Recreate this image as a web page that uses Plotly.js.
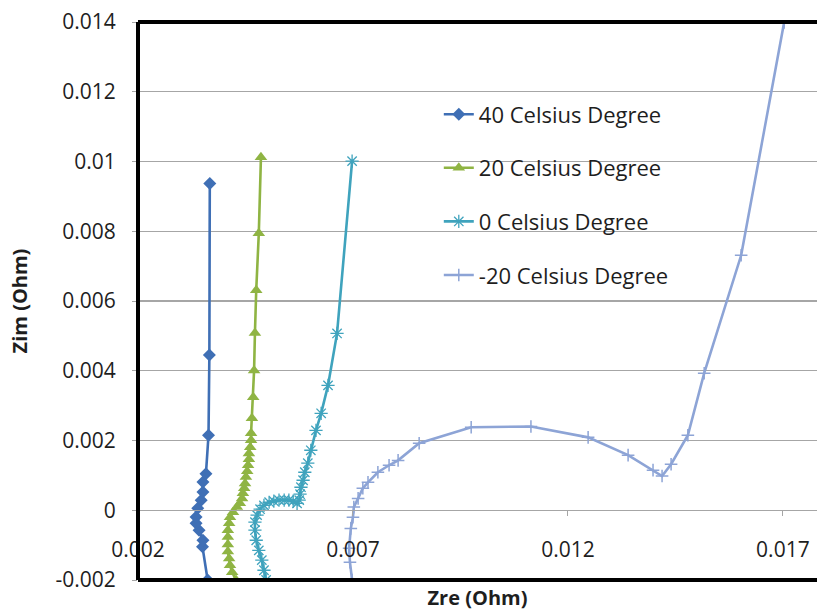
<!DOCTYPE html>
<html>
<head>
<meta charset="utf-8">
<script src="https://cdn.plot.ly/plotly-3.0.1.min.js"></script>
<style>html,body{margin:0;padding:0;background:#fff;}#chart{width:817px;height:614px;}</style>
</head>
<body>
<div id="chart"></div>
<script>
// Series names
const seriesNames = ['40 Celsius Degree', '20 Celsius Degree', '0 Celsius Degree', '-20 Celsius Degree'];

// 40 Celsius Degree
const zre40 = [0.00362, 0.00350, 0.00351, 0.00342, 0.00335, 0.00335, 0.00339, 0.00347, 0.00351, 0.00351, 0.00358, 0.00364, 0.00366, 0.00367];
const zim40 = [-0.00200, -0.00105, -0.00086, -0.00057, -0.00037, -0.00019, 0.00006, 0.00029, 0.00052, 0.00081, 0.00105, 0.00215, 0.00445, 0.00937];

// 20 Celsius Degree
const zre20 = [0.00428, 0.00419, 0.00414, 0.00412, 0.00409, 0.00409, 0.00409, 0.00409, 0.00412, 0.00414, 0.00421, 0.00430, 0.00437, 0.00442, 0.00444, 0.00447, 0.00449, 0.00451, 0.00454, 0.00456, 0.00458, 0.00458, 0.00461, 0.00463, 0.00463, 0.00465, 0.00468, 0.00470, 0.00472, 0.00475, 0.00481, 0.00486];
const zim20 = [-0.00200, -0.00178, -0.00158, -0.00138, -0.00118, -0.00098, -0.00077, -0.00057, -0.00037, -0.00020, -0.00006, 0.00009, 0.00020, 0.00034, 0.00049, 0.00063, 0.00077, 0.00095, 0.00112, 0.00129, 0.00146, 0.00163, 0.00181, 0.00201, 0.00221, 0.00264, 0.00324, 0.00401, 0.00508, 0.00631, 0.00794, 0.01012];

// 0 Celsius Degree
const zre0 = [0.00498, 0.00493, 0.00488, 0.00481, 0.00475, 0.00472, 0.00472, 0.00477, 0.00484, 0.00493, 0.00505, 0.00516, 0.00528, 0.00540, 0.00551, 0.00561, 0.00570, 0.00575, 0.00577, 0.00579, 0.00584, 0.00588, 0.00595, 0.00602, 0.00614, 0.00626, 0.00642, 0.00663, 0.00698];
const zim0 = [-0.00200, -0.00172, -0.00143, -0.00115, -0.00086, -0.00057, -0.00034, -0.00014, 0.00003, 0.00014, 0.00023, 0.00026, 0.00029, 0.00029, 0.00029, 0.00026, 0.00020, 0.00029, 0.00046, 0.00066, 0.00086, 0.00109, 0.00135, 0.00172, 0.00229, 0.00278, 0.00358, 0.00507, 0.01001];

// -20 Celsius Degree
const zreM20 = [0.00698, 0.00693, 0.00691, 0.00695, 0.00700, 0.00702, 0.00712, 0.00723, 0.00735, 0.00758, 0.00784, 0.00805, 0.00854, 0.00975, 0.01114, 0.01247, 0.01340, 0.01398, 0.01419, 0.01440, 0.01479, 0.01517, 0.01603, 0.01703];
const zimM20 = [-0.00200, -0.00149, -0.00109, -0.00052, -0.00020, 0.00009, 0.00034, 0.00063, 0.00080, 0.00109, 0.00129, 0.00143, 0.00192, 0.00238, 0.00240, 0.00209, 0.00158, 0.00115, 0.00098, 0.00132, 0.00215, 0.00393, 0.00731, 0.01399];

// Tick values / labels
const xTickVals = [0.002, 0.007, 0.012, 0.017];
const xTickText = ['0.002', '0.007', '0.012', '0.017'];
const yTickVals = [-0.002, 0, 0.002, 0.004, 0.006, 0.008, 0.01, 0.012, 0.014];
const yTickText = ['-0.002', '0', '0.002', '0.004', '0.006', '0.008', '0.01', '0.012', '0.014'];

const colors = ['#3f6fb5', '#8fb443', '#3fa3bd', '#8da4d6'];
const FONT = '"Open Sans", "DejaVu Sans", sans-serif';
const TXT = '#1e1e1e';

const traces = [
  {x: zre40, y: zim40, name: seriesNames[0], legendgroup: 'g1', mode: 'lines+markers', type: 'scatter',
   line: {color: colors[0], width: 2.6}, marker: {symbol: 'diamond', size: 10, color: colors[0]}},
  {x: zre20, y: zim20, name: seriesNames[1], legendgroup: 'g2', mode: 'lines+markers', type: 'scatter',
   line: {color: colors[1], width: 2.6}, marker: {symbol: 'triangle-up', size: 11, color: colors[1]}},
  {x: zre0, y: zim0, name: seriesNames[2], legendgroup: 'g3', mode: 'lines+markers', type: 'scatter',
   line: {color: colors[2], width: 2.6}, marker: {symbol: 'asterisk-open', size: 11, color: colors[2], line: {color: colors[2], width: 1.3}}},
  {x: zreM20, y: zimM20, name: seriesNames[3], legendgroup: 'g4', mode: 'lines+markers', type: 'scatter',
   line: {color: colors[3], width: 2.6}, marker: {symbol: 'cross-thin-open', size: 9, color: colors[3], line: {color: colors[3], width: 1.5}}}
];

const layout = {
  width: 817, height: 614,
  margin: {l: 138, r: 0, t: 22, b: 34},
  paper_bgcolor: '#ffffff', plot_bgcolor: '#ffffff',
  font: {family: FONT, color: TXT, size: 21},
  showlegend: true,
  legend: {x: 0.443, y: 0.872, xanchor: 'left', yanchor: 'top', bgcolor: 'rgba(0,0,0,0)',
           font: {family: FONT, size: 22, color: TXT}, traceorder: 'grouped', tracegroupgap: 22},
  xaxis: {
    range: [0.002, 0.017794], anchor: 'free', position: 0.125,
    tickvals: xTickVals, ticktext: xTickText,
    showgrid: false, zeroline: false,
    showline: true, linecolor: '#a6a6a6', linewidth: 1,
    ticks: 'outside', ticklen: 5, tickcolor: '#a6a6a6', tickwidth: 1,
    ticklabelstandoff: 16,
    tickfont: {family: FONT, size: 21, color: TXT},
    title: {text: '<b>Zre (Ohm)</b>', font: {family: FONT, size: 20, color: TXT}, standoff: 28}
  },
  yaxis: {
    range: [-0.002, 0.014],
    tickvals: yTickVals, ticktext: yTickText,
    showgrid: true, gridcolor: '#a6a6a6', gridwidth: 1.3,
    zeroline: false, showline: false,
    ticks: 'outside', ticklen: 5, tickcolor: '#a6a6a6', tickwidth: 1,
    ticklabelstandoff: 12,
    tickfont: {family: FONT, size: 21, color: TXT},
    title: {text: '<b>Zim (Ohm)</b>', font: {family: FONT, size: 20, color: TXT}, standoff: 22}
  },
  shapes: [
    {type: 'line', xref: 'paper', yref: 'paper', x0: 0, x1: 0, y0: 0, y1: 1, line: {color: '#000', width: 4}},
    {type: 'line', xref: 'paper', yref: 'paper', x0: 0, x1: 1, y0: 1, y1: 1, line: {color: '#000', width: 4}},
    {type: 'line', xref: 'paper', yref: 'paper', x0: 0, x1: 1, y0: 0, y1: 0, line: {color: '#000', width: 4}}
  ]
};

Plotly.newPlot('chart', traces, layout, {displayModeBar: false, staticPlot: true});
</script>
</body>
</html>
